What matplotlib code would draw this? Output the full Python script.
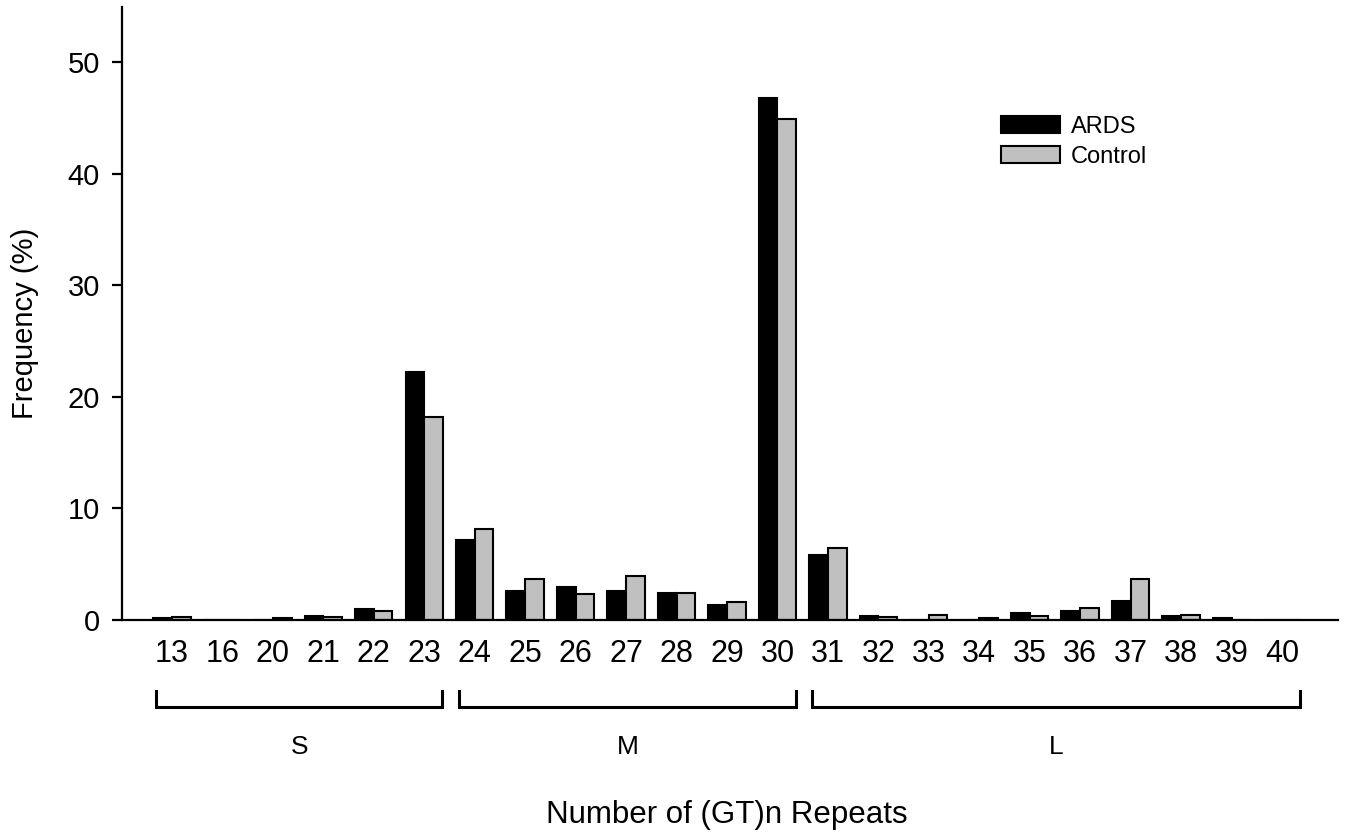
#- Frecuencia de repeticiones (GT)n: ARDS vs Control -#
import numpy as np
import matplotlib
matplotlib.use("Agg")
import matplotlib.pyplot as plt
from matplotlib.patches import Patch

plt.rcParams['font.family'] = ['Liberation Sans', 'DejaVu Sans']

#- Datos -#
repeticiones = ['13', '16', '20', '21', '22', '23', '24', '25', '26', '27', '28', '29',
                '30', '31', '32', '33', '34', '35', '36', '37', '38', '39', '40']
ards = [0.2, 0, 0, 0.35, 1.0, 22.2, 7.2, 2.6, 3.0, 2.6, 2.4, 1.3,
        46.8, 5.8, 0.35, 0, 0, 0.6, 0.8, 1.7, 0.35, 0.2, 0]
control = [0.25, 0, 0.15, 0.25, 0.8, 18.2, 8.2, 3.65, 2.3, 3.9, 2.45, 1.65,
           44.9, 6.45, 0.3, 0.45, 0.15, 0.4, 1.1, 3.7, 0.45, 0, 0]
grupos = ['S', 'M', 'L']
grupo_inicio = ['13', '24', '31']   # primera categoria de cada grupo
grupo_fin = ['23', '30', '40']      # ultima categoria de cada grupo

#- Figura -#
fig = plt.figure(figsize=(13.46, 8.36), dpi=100)
ax = fig.add_axes([122/1346, 1-620/836, (1338-122)/1346, (620-6.5)/836])

x = np.arange(len(repeticiones))
ancho = 0.37
ax.bar(x - ancho/2, ards, ancho, color='black', edgecolor='black', linewidth=1.5, label='ARDS')
ax.bar(x + ancho/2, control, ancho, color='#c0c0c0', edgecolor='black', linewidth=1.5, label='Control')

ax.set_xlim(-0.99, 23.11)
ax.set_ylim(0, 55)
ax.set_yticks([0, 10, 20, 30, 40, 50])
ax.set_xticks(x)
ax.set_xticklabels(repeticiones)

for lado in ['top', 'right']:
    ax.spines[lado].set_visible(False)
for lado in ['left', 'bottom']:
    ax.spines[lado].set_linewidth(1.6)

ax.tick_params(axis='x', length=0, pad=14, labelsize=22)
ax.tick_params(axis='y', length=7, width=1.6, pad=9, labelsize=21)

#- Corchetes de grupos S, M, L -#
pos = {c: i for i, c in enumerate(repeticiones)}
for nombre, ini, fin in zip(grupos, grupo_inicio, grupo_fin):
    x0 = pos[ini] - 0.31
    x1 = pos[fin] + 0.36
    ax.plot([x0, x0, x1, x1], [-6.4, -7.8, -7.8, -6.4], color='black', lw=2.2,
            clip_on=False, solid_joinstyle='miter')
    ax.text((x0 + x1) / 2, -11.4, nombre, ha='center', va='center', fontsize=19)

#- Etiquetas de ejes -#
fig.text(727/1346, 1-815/836, 'Number of (GT)n Repeats', ha='center', va='center', fontsize=22.5)
fig.text(25/1346, 1-323/836, 'Frequency (%)', ha='center', va='center', rotation=90, fontsize=21)

#- Leyenda -#
manijas = [Patch(facecolor='black', edgecolor='black', linewidth=1.5),
           Patch(facecolor='#c0c0c0', edgecolor='black', linewidth=1.5)]
ax.legend(manijas, ['ARDS', 'Control'], loc='upper left',
          bbox_to_anchor=(989/1346, 1-104/836), bbox_transform=fig.transFigure,
          frameon=False, fontsize=17, handlelength=2.5, handleheight=0.75,
          handletextpad=0.45, labelspacing=0.35, borderpad=0)

fig.savefig('out.png', dpi=100)
